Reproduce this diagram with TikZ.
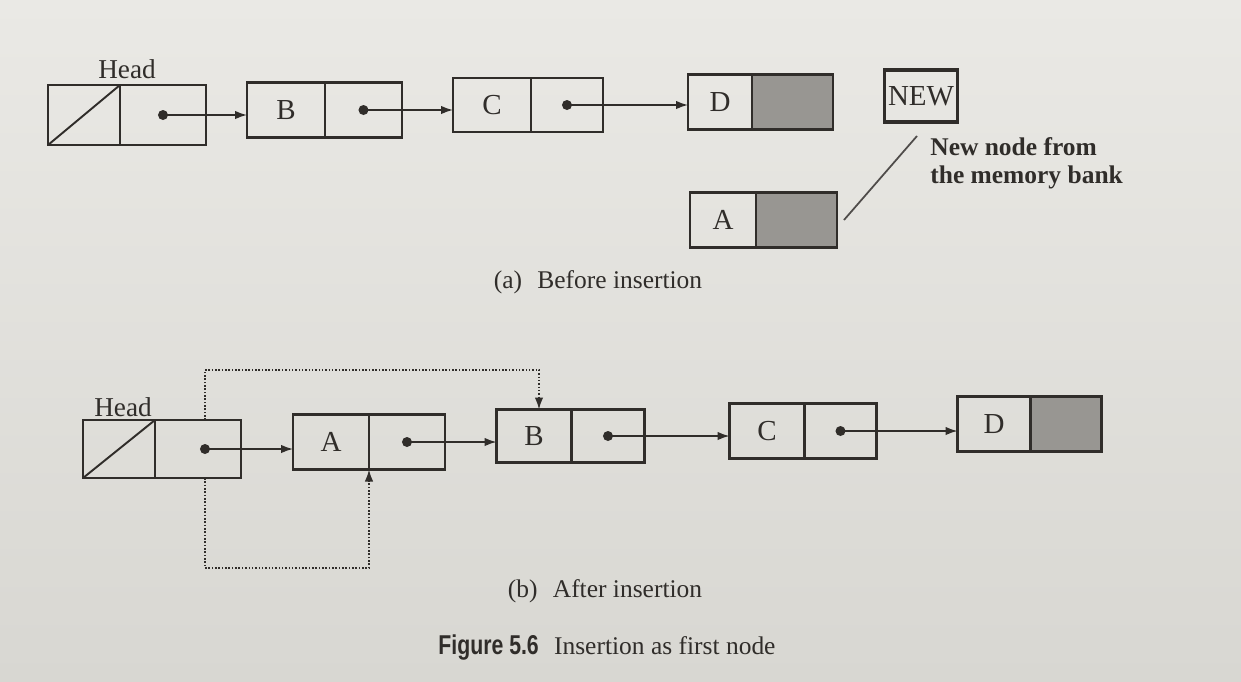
\documentclass[tikz,border=0pt]{standalone}
\usepackage{fontspec}
\setmainfont{Liberation Serif}
\newfontfamily\figfont[FakeStretch=0.78]{Liberation Sans}
\usetikzlibrary{positioning,arrows.meta}
\definecolor{paper}{RGB}{234,233,229}
\definecolor{paperdark}{RGB}{216,215,210}
\definecolor{ink}{RGB}{48,45,42}
\definecolor{nullcell}{RGB}{152,150,146}

\begin{document}
\begin{tikzpicture}[x=0.02cm, y=-0.02cm,
        cell/.style={draw=ink, line width=1.2pt, minimum height=1.1cm, inner sep=0pt, outer sep=0pt,
                     text=ink, font=\fontsize{16.5}{19}\selectfont},
        nullptr/.style={cell, fill=nullcell},
        link/.style={draw=ink, line width=0.9pt, -{Latex[length=0.24cm, width=0.17cm]}},
        oldlink/.style={link, densely dotted},
        tag/.style={text=ink, inner sep=0pt, font=\fontsize{15.5}{18}\selectfont},
        captext/.style={tag, font=\fontsize{14.5}{17}\selectfont}]
                \shade [top color=paper, bottom color=paperdark] (0,0) rectangle (1241,681);
                % (a) list before insertion
                \node [cell, minimum width=1.44cm, minimum height=1.2cm] (head1) at (84,115) {};
                \node [cell, minimum width=1.72cm, minimum height=1.2cm, right=0pt of head1] (head1p) {};
                \node [cell, minimum width=1.56cm] (b1) at (286,110) {B};
                \node [cell, minimum width=1.54cm, right=0pt of b1] (b1p) {};
                \node [cell, minimum width=1.56cm, minimum height=1.08cm] (c1) at (492,105) {C};
                \node [cell, minimum width=1.44cm, minimum height=1.08cm, right=0pt of c1] (c1p) {};
                \node [cell, minimum width=1.28cm] (d1) at (720,102) {D};
                \node [nullptr, minimum width=1.62cm, right=0pt of d1] (d1p) {};
                \node [cell, line width=2.2pt, minimum width=1.46cm, minimum height=1.04cm] (new1) at (921,96) {NEW};
                \node [cell, minimum width=1.32cm] (a1) at (723,220) {A};
                \node [nullptr, minimum width=1.62cm, right=0pt of a1] (a1p) {};
                \draw [ink, line width=1.1pt] (head1.south west) -- (head1.north east);
                \node [tag, anchor=base] (head1lbl) at (127,78) {Head};
                \node [tag, font=\fontsize{14.5}{16}\selectfont\bfseries, align=left, anchor=north west]
                        (newnote) at (930,137) {New node from\\the memory bank};
                \draw [ink!85, line width=1pt] ([shift={(-4,14)}]new1.south) -- ([xshift=0.14cm]a1p.east);
                \draw [link] (head1p.center) -- (head1p.center -| b1.west);
                \draw [link] (b1p.center) -- (b1p.center -| c1.west);
                \draw [link] (c1p.center) -- (c1p.center -| d1.west);
                \node [captext] (capa) at (598,282) {(a)\hspace{0.6em}Before insertion};
                % (b) list after insertion
                \node [cell, minimum width=1.44cm, minimum height=1.16cm] (head2) at (119,449) {};
                \node [cell, minimum width=1.72cm, minimum height=1.16cm, right=0pt of head2] (head2p) {};
                \node [cell, minimum width=1.52cm] (a2) at (331,442) {A};
                \node [cell, minimum width=1.52cm, right=0pt of a2] (a2p) {};
                \node [cell, minimum width=1.5cm, minimum height=1.06cm] (b2) at (534,436) {B};
                \node [cell, minimum width=1.46cm, minimum height=1.06cm, right=0pt of b2] (b2p) {};
                \node [cell, minimum width=1.5cm] (c2) at (767,431) {C};
                \node [cell, minimum width=1.44cm, right=0pt of c2] (c2p) {};
                \node [cell, minimum width=1.46cm] (d2) at (994,424) {D};
                \node [nullptr, minimum width=1.42cm, right=0pt of d2] (d2p) {};
                \draw [ink, line width=1.1pt] (head2.south west) -- (head2.north east);
                \node [tag, anchor=base] (head2lbl) at (123,416) {Head};
                \coordinate [xshift=0.14cm] (hdot2) at (head2p.center);
                \draw [link] (hdot2) -- (hdot2 -| a2.west);
                \draw [link] (a2p.center) -- (a2p.center -| b2.west);
                \draw [link] (b2p.center) -- (b2p.center -| c2.west);
                \draw [link] (c2p.center) -- (c2p.center -| d2.west);
                \coordinate (up2) at (0,370);
                \coordinate (low2) at (0,568);
                \draw [oldlink] (hdot2 |- head2p.north) -- (hdot2 |- up2) -| ([xshift=0.1cm]b2.north);
                \draw [oldlink] (hdot2 |- head2p.south) -- (hdot2 |- low2) -| (a2.south east);
                \foreach \p in {head1p.center,b1p.center,c1p.center,hdot2,a2p.center,b2p.center,c2p.center}
                    \fill [ink] (\p) circle (0.1cm);
                \node [captext] (capb) at (605,591) {(b)\hspace{0.6em}After insertion};
                \node [captext] (figcap) at (607,648)
                        {{\figfont\bfseries\fontsize{15.5}{18}\selectfont Figure 5.6}\hspace{0.6em}Insertion as first node};
\end{tikzpicture}
\end{document}
